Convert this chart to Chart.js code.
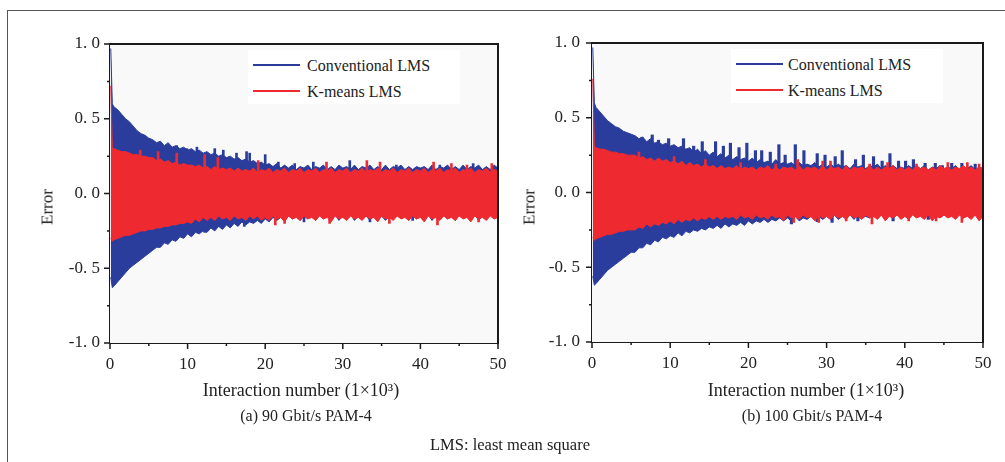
<!DOCTYPE html>
<html>
<head>
<meta charset="utf-8">
<script src="https://cdn.jsdelivr.net/npm/chart.js@4.4.1/dist/chart.umd.min.js"></script>
<style>
  html, body { margin: 0; padding: 0; background: #ffffff; }
  body { width: 1005px; height: 462px; position: relative; overflow: hidden; font-family: "Liberation Serif", "DejaVu Serif", serif; color: #222; }
  canvas { position: absolute; top: 0; }
  #c1 { left: 0; }
  #c2 { left: 500px; }
  .t { position: absolute; white-space: nowrap; transform: translate(-50%, -50%); line-height: 1; }
  .rot { transform: translate(-50%, -50%) rotate(-90deg); }
  .lbox { position: absolute; background: #ffffff; }
  .lline { position: absolute; height: 2px; }
  .ltext { position: absolute; white-space: nowrap; font-size: 16px; line-height: 1; transform: translateY(-50%); }
  .frameTop { position: absolute; left: 7px; top: 10px; width: 998px; height: 0; border-top: 1.5px solid #555; }
  .frameLeft { position: absolute; left: 7px; top: 10px; width: 0; height: 452px; border-left: 1.5px solid #555; }
</style>
</head>
<body>
<div class="frameTop"></div>
<div class="frameLeft"></div>
<canvas id="c1" width="520" height="462"></canvas>
<canvas id="c2" width="505" height="462"></canvas>

<div class="lbox" style="left:248px;top:50px;width:212px;height:54px;"></div>
<div class="lline" style="left:253px;top:64px;width:47px;background:#2b3d9c;"></div>
<div class="ltext" style="left:307px;top:66px;">Conventional LMS</div>
<div class="lline" style="left:253px;top:90px;width:47px;background:#ee2a30;"></div>
<div class="ltext" style="left:307px;top:92px;">K-means LMS</div>

<div class="lbox" style="left:731px;top:49px;width:212px;height:54px;"></div>
<div class="lline" style="left:736px;top:63px;width:47px;background:#2b3d9c;"></div>
<div class="ltext" style="left:788px;top:65px;">Conventional LMS</div>
<div class="lline" style="left:736px;top:89px;width:47px;background:#ee2a30;"></div>
<div class="ltext" style="left:788px;top:91px;">K-means LMS</div>

<div class="t rot" style="left:47px;top:207px;font-size:17px;">Error</div>
<div class="t rot" style="left:529px;top:207px;font-size:17px;">Error</div>
<div class="t" style="left:301px;top:390px;font-size:18px;">Interaction number (1×10³)</div>
<div class="t" style="left:806px;top:390px;font-size:18px;">Interaction number (1×10³)</div>
<div class="t" style="left:306px;top:416px;font-size:16px;">(a) 90 Gbit/s PAM-4</div>
<div class="t" style="left:812px;top:416px;font-size:16px;">(b) 100 Gbit/s PAM-4</div>
<div class="t" style="left:510px;top:445px;font-size:16.5px;">LMS: least mean square</div>

<script>
// ---------- DATA ----------
// Iteration number (x 10^3) at which the error envelopes are read
const iterK = [0.1, 0.3,
  0.5,1,1.5,2,2.5,3,3.5,4,4.5,5,
  5.5,6,6.5,7,7.5,8,8.5,9,9.5,10,
  10.5,11,11.5,12,12.5,13,13.5,14,14.5,15,
  15.5,16,16.5,17,17.5,18,18.5,19,19.5,20,
  20.5,21,21.5,22,22.5,23,23.5,24,24.5,25,
  25.5,26,26.5,27,27.5,28,28.5,29,29.5,30,
  30.5,31,31.5,32,32.5,33,33.5,34,34.5,35,
  35.5,36,36.5,37,37.5,38,38.5,39,39.5,40,
  40.5,41,41.5,42,42.5,43,43.5,44,44.5,45,
  45.5,46,46.5,47,47.5,48,48.5,49,49.5,50];

// (a) 90 Gbit/s PAM-4 : error envelopes
const aConvUpper = [0.97, 0.60,
  0.58,0.56,0.53,0.50,0.48,0.45,0.42,0.40,0.39,0.37,
  0.36,0.34,0.35,0.32,0.34,0.31,0.32,0.30,0.31,0.29,
  0.30,0.28,0.29,0.27,0.28,0.26,0.27,0.25,0.26,0.24,
  0.25,0.23,0.24,0.22,0.23,0.21,0.22,0.20,0.21,0.19,
  0.20,0.18,0.20,0.17,0.19,0.17,0.19,0.16,0.18,0.17,
  0.19,0.16,0.18,0.17,0.19,0.16,0.18,0.16,0.19,0.17,
  0.18,0.16,0.19,0.16,0.18,0.17,0.19,0.16,0.18,0.16,
  0.19,0.16,0.18,0.17,0.19,0.16,0.18,0.16,0.18,0.17,
  0.18,0.16,0.19,0.16,0.18,0.17,0.19,0.16,0.18,0.16,
  0.19,0.16,0.18,0.17,0.19,0.16,0.18,0.16,0.19,0.17];
const aConvLower = [-0.56, -0.63,
  -0.62,-0.59,-0.56,-0.53,-0.50,-0.48,-0.46,-0.44,-0.42,-0.40,
  -0.38,-0.36,-0.36,-0.33,-0.34,-0.31,-0.32,-0.29,-0.30,-0.27,
  -0.29,-0.26,-0.27,-0.25,-0.26,-0.23,-0.25,-0.22,-0.24,-0.21,
  -0.23,-0.20,-0.22,-0.19,-0.21,-0.19,-0.20,-0.18,-0.20,-0.17,
  -0.19,-0.16,-0.18,-0.16,-0.18,-0.15,-0.17,-0.15,-0.18,-0.15,
  -0.17,-0.15,-0.18,-0.14,-0.17,-0.15,-0.17,-0.14,-0.18,-0.15,
  -0.17,-0.14,-0.18,-0.15,-0.17,-0.15,-0.18,-0.14,-0.17,-0.15,
  -0.18,-0.15,-0.17,-0.14,-0.17,-0.15,-0.18,-0.14,-0.17,-0.15,
  -0.17,-0.14,-0.18,-0.15,-0.17,-0.14,-0.17,-0.15,-0.18,-0.14,
  -0.17,-0.15,-0.17,-0.14,-0.18,-0.15,-0.17,-0.14,-0.17,-0.15];
const aKmUpper = [0.72, 0.31,
  0.30,0.29,0.28,0.28,0.27,0.26,0.26,0.25,0.25,0.24,
  0.24,0.22,0.23,0.21,0.22,0.20,0.21,0.19,0.20,0.19,
  0.19,0.18,0.19,0.17,0.18,0.16,0.18,0.16,0.17,0.16,
  0.17,0.15,0.17,0.15,0.16,0.15,0.17,0.14,0.16,0.15,
  0.17,0.14,0.16,0.15,0.17,0.14,0.16,0.15,0.17,0.14,
  0.16,0.15,0.17,0.14,0.16,0.15,0.17,0.14,0.16,0.15,
  0.17,0.14,0.16,0.15,0.17,0.14,0.16,0.15,0.17,0.14,
  0.16,0.15,0.17,0.14,0.16,0.15,0.17,0.14,0.16,0.15,
  0.17,0.14,0.16,0.15,0.17,0.14,0.16,0.15,0.17,0.14,
  0.16,0.15,0.17,0.14,0.16,0.15,0.17,0.14,0.16,0.15];
const aKmLower = [-0.30, -0.32,
  -0.31,-0.30,-0.29,-0.28,-0.28,-0.27,-0.26,-0.25,-0.25,-0.24,
  -0.24,-0.23,-0.23,-0.22,-0.22,-0.21,-0.21,-0.20,-0.20,-0.19,
  -0.20,-0.17,-0.19,-0.16,-0.18,-0.16,-0.18,-0.15,-0.17,-0.16,
  -0.18,-0.15,-0.17,-0.16,-0.18,-0.15,-0.17,-0.15,-0.18,-0.16,
  -0.18,-0.15,-0.17,-0.16,-0.19,-0.15,-0.17,-0.16,-0.18,-0.15,
  -0.17,-0.16,-0.18,-0.15,-0.17,-0.16,-0.19,-0.15,-0.17,-0.16,
  -0.18,-0.15,-0.17,-0.16,-0.18,-0.15,-0.17,-0.16,-0.19,-0.15,
  -0.17,-0.16,-0.18,-0.15,-0.17,-0.16,-0.18,-0.15,-0.17,-0.16,
  -0.19,-0.15,-0.17,-0.16,-0.18,-0.15,-0.17,-0.16,-0.18,-0.15,
  -0.17,-0.16,-0.19,-0.15,-0.17,-0.16,-0.18,-0.15,-0.17,-0.16];
// (a) isolated error spikes (position, value)
const aConvSpikeK = [8.6, 9.9, 11.2, 13.5, 14.6, 16.3, 17.6, 18.0, 20.0, 21.7, 23.8, 26.2, 30.9, 36.9, 42.5, 46.8,
  12.2, 17.3, 25.0, 33.5, 39.0];
const aConvSpikeV = [0.32, 0.30, 0.31, 0.30, 0.29, 0.27, 0.28, 0.27, 0.26, 0.21, 0.20, 0.21, 0.22, 0.19, 0.19, 0.20,
  -0.26, -0.22, -0.19, -0.19, -0.18];
const aKmSpikeK = [3.9, 6.2, 8.6, 12.2, 13.9, 19.1, 27.9, 33.1, 34.8, 41.7, 44.0, 46.0, 49.2,
  21.3, 22.5, 28.3, 36.0, 42.2, 47.5];
const aKmSpikeV = [0.29, 0.28, 0.27, 0.26, 0.24, 0.22, 0.21, 0.22, 0.21, 0.21, 0.20, 0.19, 0.20,
  -0.21, -0.20, -0.20, -0.20, -0.21, -0.19];

// (b) 100 Gbit/s PAM-4 : error envelopes
const bConvUpper = [0.97, 0.60,
  0.57,0.54,0.51,0.48,0.46,0.44,0.43,0.41,0.40,0.39,
  0.38,0.36,0.37,0.34,0.36,0.33,0.34,0.32,0.33,0.31,
  0.32,0.30,0.31,0.29,0.30,0.27,0.29,0.26,0.28,0.25,
  0.27,0.24,0.26,0.23,0.25,0.22,0.24,0.22,0.23,0.21,
  0.23,0.20,0.22,0.20,0.21,0.19,0.22,0.19,0.20,0.19,
  0.20,0.18,0.20,0.18,0.19,0.18,0.20,0.17,0.19,0.17,
  0.19,0.17,0.19,0.17,0.18,0.16,0.19,0.17,0.18,0.16,
  0.18,0.17,0.19,0.16,0.18,0.16,0.18,0.16,0.17,0.16,
  0.18,0.16,0.17,0.16,0.18,0.15,0.17,0.16,0.18,0.15,
  0.17,0.16,0.18,0.15,0.17,0.16,0.18,0.15,0.17,0.16];
const bConvLower = [-0.56, -0.62,
  -0.61,-0.58,-0.55,-0.52,-0.50,-0.48,-0.46,-0.44,-0.42,-0.40,
  -0.40,-0.37,-0.37,-0.34,-0.35,-0.32,-0.33,-0.30,-0.31,-0.29,
  -0.30,-0.27,-0.29,-0.26,-0.27,-0.25,-0.26,-0.24,-0.25,-0.23,
  -0.24,-0.22,-0.24,-0.21,-0.23,-0.21,-0.22,-0.20,-0.22,-0.19,
  -0.21,-0.19,-0.20,-0.18,-0.20,-0.18,-0.19,-0.17,-0.19,-0.17,
  -0.19,-0.16,-0.19,-0.17,-0.18,-0.16,-0.18,-0.16,-0.18,-0.16,
  -0.18,-0.15,-0.18,-0.16,-0.17,-0.15,-0.18,-0.15,-0.17,-0.16,
  -0.17,-0.15,-0.17,-0.15,-0.17,-0.14,-0.17,-0.15,-0.16,-0.15,
  -0.17,-0.14,-0.16,-0.15,-0.17,-0.14,-0.16,-0.14,-0.17,-0.15,
  -0.16,-0.14,-0.16,-0.15,-0.17,-0.14,-0.16,-0.14,-0.16,-0.15];
const bKmUpper = [0.76, 0.31,
  0.30,0.29,0.29,0.28,0.27,0.27,0.26,0.26,0.25,0.25,
  0.25,0.23,0.24,0.22,0.23,0.21,0.23,0.21,0.22,0.20,
  0.21,0.19,0.21,0.18,0.20,0.18,0.19,0.17,0.19,0.17,
  0.18,0.16,0.18,0.16,0.17,0.16,0.18,0.15,0.17,0.16,
  0.17,0.15,0.17,0.16,0.18,0.15,0.17,0.15,0.17,0.16,
  0.17,0.15,0.18,0.15,0.17,0.16,0.17,0.15,0.18,0.15,
  0.17,0.16,0.17,0.15,0.18,0.15,0.17,0.16,0.17,0.15,
  0.18,0.15,0.17,0.15,0.17,0.16,0.18,0.15,0.17,0.15,
  0.17,0.15,0.18,0.16,0.17,0.15,0.17,0.15,0.18,0.16,
  0.17,0.15,0.17,0.16,0.18,0.15,0.17,0.15,0.17,0.16];
const bKmLower = [-0.30, -0.32,
  -0.31,-0.30,-0.29,-0.28,-0.28,-0.27,-0.26,-0.26,-0.25,-0.25,
  -0.25,-0.23,-0.24,-0.21,-0.23,-0.21,-0.22,-0.20,-0.21,-0.19,
  -0.21,-0.18,-0.20,-0.18,-0.19,-0.17,-0.19,-0.17,-0.18,-0.16,
  -0.18,-0.16,-0.18,-0.16,-0.17,-0.16,-0.18,-0.15,-0.17,-0.16,
  -0.18,-0.15,-0.17,-0.16,-0.18,-0.15,-0.17,-0.16,-0.19,-0.15,
  -0.17,-0.16,-0.18,-0.15,-0.17,-0.16,-0.19,-0.15,-0.17,-0.16,
  -0.18,-0.15,-0.17,-0.16,-0.18,-0.15,-0.17,-0.16,-0.18,-0.15,
  -0.17,-0.16,-0.18,-0.15,-0.19,-0.16,-0.17,-0.15,-0.18,-0.16,
  -0.18,-0.15,-0.17,-0.16,-0.18,-0.15,-0.19,-0.16,-0.17,-0.15,
  -0.17,-0.16,-0.18,-0.15,-0.17,-0.16,-0.18,-0.15,-0.19,-0.16];
// (b) isolated error spikes (position, value)
const bConvSpikeK = [6.4, 7.7, 8.5, 9.8, 11.7, 13.0, 14.1, 15.8, 16.8, 17.7, 18.8, 19.8, 20.9, 21.7, 22.8,
  23.9, 24.7, 26.0, 27.1, 28.8, 29.8, 31.1, 32.0, 33.7, 34.7, 36.0, 37.1, 38.1, 39.2, 40.1,
  41.1, 42.6, 43.9, 44.8, 46.0, 47.3, 49.0,
  25.5, 28.8, 30.7, 34.0, 38.5, 43.0];
const bConvSpikeV = [0.37, 0.385, 0.35, 0.36, 0.36, 0.31, 0.34, 0.34, 0.31, 0.33, 0.30, 0.33, 0.28, 0.28, 0.27,
  0.32, 0.25, 0.32, 0.28, 0.26, 0.25, 0.24, 0.28, 0.22, 0.25, 0.24, 0.21, 0.26, 0.21, 0.21,
  0.22, 0.195, 0.195, 0.18, 0.195, 0.195, 0.19,
  -0.21, -0.195, -0.20, -0.19, -0.19, -0.18];
const bKmSpikeK = [6.0, 10.5, 14.5, 19.0, 23.5, 26.3, 29.5, 30.5, 35.5, 37.8, 41.5, 45.5, 48.0, 49.5,
  25.8, 29.0, 32.5, 35.8, 40.5, 44.0, 47.3];
const bKmSpikeV = [0.27, 0.24, 0.22, 0.20, 0.19, 0.22, 0.21, 0.21, 0.19, 0.20, 0.19, 0.20, 0.20, 0.19,
  -0.20, -0.20, -0.19, -0.21, -0.19, -0.19, -0.20];

// Axis ticks
const xMajorTicks = [0, 10, 20, 30, 40, 50];
const xMinorTicks = [5, 15, 25, 35, 45];
const yMajorTicks = [-1, -0.5, 0, 0.5, 1];
const yMinorTicks = [-0.75, -0.25, 0.25, 0.75];

// ---------- STYLE ----------
const BLUE = '#2b3d9c';
const RED = '#ee2a30';
const AXIS = '#1a1a1a';

function pts(arr) { return arr.map((v, i) => ({ x: iterK[i], y: v })); }
function spikes(ks, vs) { return ks.map((k, i) => ({ x: k, y: vs[i] })); }

const frameTicks = {
  id: 'frameTicks',
  beforeDatasetsDraw(chart) {
    const { ctx, chartArea: a } = chart;
    ctx.save();
    ctx.fillStyle = '#f9f9f9';
    ctx.fillRect(a.left, a.top, a.right - a.left, a.bottom - a.top);
    ctx.restore();
  },
  afterDraw(chart) {
    const { ctx, chartArea: a, scales: { x, y } } = chart;
    ctx.save();
    ctx.strokeStyle = AXIS;
    ctx.lineWidth = 2;
    ctx.beginPath();
    ctx.moveTo(a.left, a.top); ctx.lineTo(a.right, a.top); ctx.lineTo(a.right, a.bottom);
    ctx.stroke();
    ctx.lineWidth = 1.5;
    ctx.beginPath();
    yMajorTicks.forEach(v => { const p = y.getPixelForValue(v); ctx.moveTo(a.left - 6, p); ctx.lineTo(a.left, p); });
    yMinorTicks.forEach(v => { const p = y.getPixelForValue(v); ctx.moveTo(a.left - 3, p); ctx.lineTo(a.left, p); });
    xMajorTicks.forEach(v => { const p = x.getPixelForValue(v); ctx.moveTo(p, a.bottom); ctx.lineTo(p, a.bottom + 6); });
    xMinorTicks.forEach(v => { const p = x.getPixelForValue(v); ctx.moveTo(p, a.bottom); ctx.lineTo(p, a.bottom + 3); });
    ctx.stroke();
    ctx.restore();
  }
};

function makeChart(id, conU, conL, kmU, kmL, conSK, conSV, kmSK, kmSV, pad, yWidth, xHeight, yPad, conBarW) {
  const line = (data, color, fill) => ({
    type: 'line', data: pts(data), borderColor: color, backgroundColor: color,
    borderWidth: 1, pointRadius: 0, tension: 0, fill: fill
  });
  const bar = (data, color, w) => ({
    type: 'bar', data: data, backgroundColor: color, borderWidth: 0,
    barThickness: w, grouped: false
  });
  return new Chart(document.getElementById(id), {
    type: 'line',
    data: {
      datasets: [
        line(kmU, RED, '+1'),
        line(kmL, RED, false),
        bar(spikes(kmSK, kmSV), RED, 2),
        bar(spikes(conSK, conSV), BLUE, conBarW),
        line(conU, BLUE, '+1'),
        line(conL, BLUE, false)
      ]
    },
    options: {
      responsive: false,
      animation: false,
      events: [],
      layout: { padding: pad },
      plugins: { legend: { display: false }, tooltip: { enabled: false } },
      scales: {
        x: {
          type: 'linear', min: 0, max: 50, offset: false,
          afterFit: s => { s.height = xHeight; },
          afterBuildTicks: s => { s.ticks = xMajorTicks.map(v => ({ value: v })); },
          grid: { display: false, drawTicks: false, offset: false },
          border: { display: true, color: AXIS, width: 2 },
          ticks: { color: '#222', padding: 11, font: { family: 'Liberation Serif', size: 17 }, maxRotation: 0,
                   callback: v => String(v) }
        },
        y: {
          type: 'linear', min: -1, max: 1, beginAtZero: false,
          afterFit: s => { s.width = yWidth; },
          afterBuildTicks: s => { s.ticks = yMajorTicks.map(v => ({ value: v })); },
          grid: { display: false, drawTicks: false },
          border: { display: true, color: AXIS, width: 2 },
          ticks: { color: '#222', padding: yPad, font: { family: 'Liberation Serif', size: 17 },
                   callback: v => v.toFixed(1).replace('.', '. ') }
        }
      }
    },
    plugins: [frameTicks]
  });
}

makeChart('c1', aConvUpper, aConvLower, aKmUpper, aKmLower, aConvSpikeK, aConvSpikeV, aKmSpikeK, aKmSpikeV,
  { top: 44, right: 22, left: 0, bottom: 0 }, 110, 119, 10, 2);
makeChart('c2', bConvUpper, bConvLower, bKmUpper, bKmLower, bConvSpikeK, bConvSpikeV, bKmSpikeK, bKmSpikeV,
  { top: 43, right: 22, left: 0, bottom: 0 }, 92, 120, 12, 2.5);
</script>
</body>
</html>
